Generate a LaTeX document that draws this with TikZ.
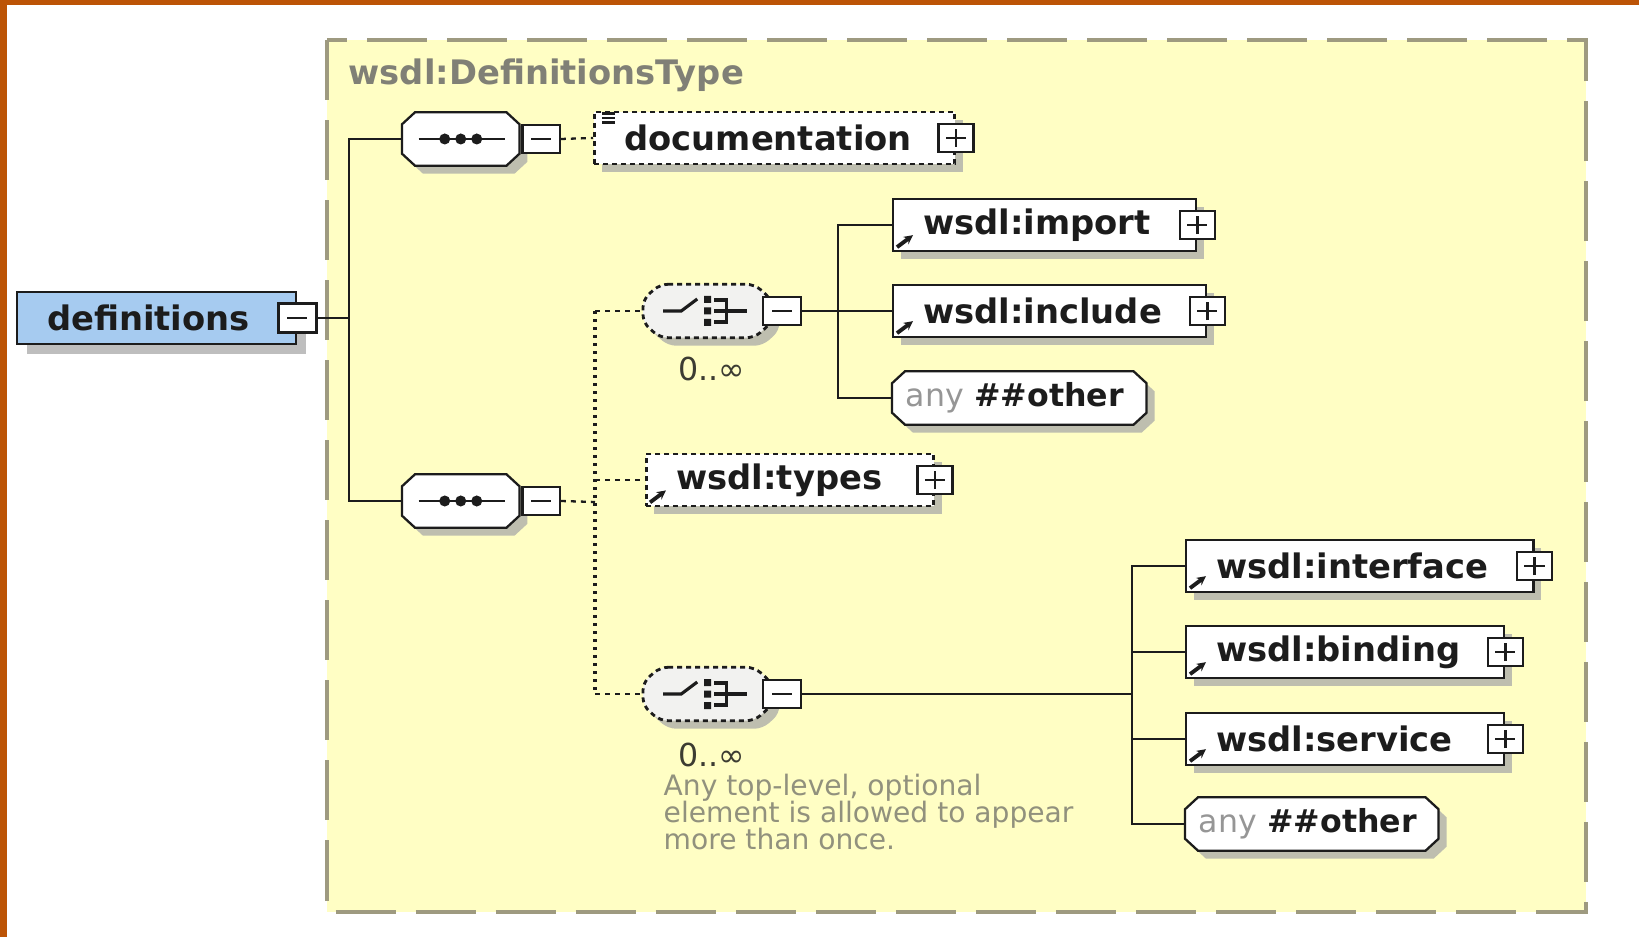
\documentclass[tikz,border=0pt]{standalone}
\usepackage{fontspec}
\setmainfont{DejaVu Sans}
\usetikzlibrary{arrows.meta,shadows,calc}
\definecolor{orng}{RGB}{188,84,6}
\definecolor{yel}{RGB}{255,254,196}
\definecolor{frm}{RGB}{158,154,128}
\definecolor{ink}{RGB}{28,28,28}
\definecolor{defblue}{RGB}{166,203,240}
\definecolor{shd}{RGB}{190,190,175}
\definecolor{shdw}{RGB}{190,190,190}
\definecolor{ttl}{RGB}{128,128,118}
\definecolor{notec}{RGB}{145,145,125}
\definecolor{anyc}{RGB}{150,150,150}
\definecolor{multc}{RGB}{60,60,50}
\definecolor{chfill}{RGB}{242,242,240}
\pgfdeclarelayer{base}
\pgfdeclarelayer{back}
\pgfsetlayers{base,back,main}
\newcommand\octoutline[4]{%
 \draw[#1] ([xshift=#3]#2.north west) -- ([xshift=-#3]#2.north east) -- ([yshift=-#4]#2.north east) -- ([yshift=#4]#2.south east) -- ([xshift=-#3]#2.south east) -- ([xshift=#3]#2.south west) -- ([yshift=#4]#2.south west) -- ([yshift=-#4]#2.north west) -- cycle;}
\begin{document}
\begin{tikzpicture}[x=0.01cm, y=-0.01cm,
 lw/.style={line width=0.65pt},
 lbl/.style={font=\fontsize{9.6}{11}\selectfont\bfseries, text=ink},
 elembase/.style={lbl, draw=ink, lw, fill=white, anchor=west, minimum height=0.52cm, inner xsep=0.3cm, inner ysep=0pt, align=left},
 elem/.style={elembase, drop shadow={shadow xshift=0.08cm, shadow yshift=-0.08cm, fill=shd, opacity=1}},
 optelem/.style={elem, dash pattern=on 0.05cm off 0.04cm, line width=0.8pt},
 pm/.style={draw=ink, lw, fill=white, minimum width=0.35cm, minimum height=0.28cm, inner sep=0pt},
 minus/.style={pm, path picture={\draw[ink,lw] ([xshift=-0.1cm]path picture bounding box.center) -- ([xshift=0.1cm]path picture bounding box.center);}},
 plus/.style={pm, path picture={\draw[ink,lw] ([xshift=-0.1cm]path picture bounding box.center) -- ([xshift=0.1cm]path picture bounding box.center) ([yshift=-0.09cm]path picture bounding box.center) -- ([yshift=0.09cm]path picture bounding box.center);}},
 conn/.style={draw=ink, lw},
 oconn/.style={draw=ink, lw, dash pattern=on 0.05cm off 0.05cm},
 dconn/.style={draw=ink, line width=0.9pt, dash pattern=on 0.03cm off 0.05cm},
 refarr/.style={draw=ink, line width=1.1pt, -{Stealth[length=0.09cm,width=0.09cm]}},
 ghost/.style={minimum width=#1, minimum height=0.52cm, inner sep=0pt, anchor=west},
 anyn/.style={font=\fontsize{9}{10}\selectfont\bfseries, text=ink, anchor=west, minimum height=0.52cm, inner xsep=0.13cm, inner ysep=0pt, align=left},
 mult/.style={font=\fontsize{9}{10}\selectfont, text=multc, inner sep=0pt},
 note/.style={font=\fontsize{8}{7.8}\selectfont, text=notec, align=left, inner sep=0pt, anchor=north west}
]
\useasboundingbox (0,0) rectangle (1639,937);
\begin{pgfonlayer}{base}
\fill[white] (0,0) rectangle (1639,937);
\fill[orng] (0,0) rectangle (7,937);
\fill[orng] (0,0) rectangle (1639,5);
\draw[frm, line width=0.9pt, fill=yel, dash pattern=on 0.6cm off 0.2cm] (327,40) rectangle (1586,912);
\end{pgfonlayer}

\node[lbl, text=ttl, anchor=west, inner sep=0pt] (ttl) at (348,75) {wsdl:DefinitionsType};

% root
\node[elembase, fill=defblue, text width=2.19cm, drop shadow={shadow xshift=0.1cm, shadow yshift=-0.1cm, fill=shdw, opacity=1}] (def) at (16,318) {definitions};
\node[minus, minimum width=0.38cm, minimum height=0.29cm] (defM) at (def.east) {};

% sequences
\node[ghost=1.16cm] (s1) at (402,139) {};
\node[minus, minimum width=0.37cm, anchor=west] (s1M) at ([xshift=0.02cm]s1.east) {};
\node[ghost=1.16cm] (s2) at (402,501) {};
\node[minus, minimum width=0.37cm, anchor=west] (s2M) at ([xshift=0.02cm]s2.east) {};

% documentation
\node[optelem, text width=3.0cm] (doc) at (593,138) {documentation};
\node[plus] (docP) at (doc.east) {};
\begin{scope}[shift={(doc.north west)}]
\draw[ink, line width=0.8pt] (9,3) -- (22,3) (9,7.5) -- (22,7.5) (9,12) -- (22,12);
\end{scope}

% choices
\node[ghost=1.27cm] (c1) at (643,311) {};
\node[minus, minimum width=0.38cm] (c1M) at (782,311) {};
\node[mult] (c1n) at (712,369) {0..∞};
\node[ghost=1.27cm] (c2) at (643,694) {};
\node[minus, minimum width=0.38cm] (c2M) at (782,694) {};
\node[mult] (c2n) at (712,755) {0..∞};
\node[note] (note) at (663,773) {Any top-level, optional\\element is allowed to appear\\more than once.};

% types
\node[optelem, text width=2.27cm] (types) at (645,480) {wsdl:types};
\node[plus] (typesP) at (types.east) {};

% first choice children
\node[elem, text width=2.43cm] (imp) at (892,225) {wsdl:import};
\node[plus] (impP) at (imp.east) {};
\node[elem, text width=2.53cm] (inc) at (892,311) {wsdl:include};
\node[plus] (incP) at (inc.east) {};
\node[anyn, text width=2.27cm] (oth1) at (892,398) {\mbox{\textcolor{anyc}{\mdseries any} \#\#other}};

% second choice children
\node[elem, text width=2.87cm] (ifc) at (1185,566) {wsdl:interface};
\node[plus] (ifcP) at (ifc.east) {};
\node[elem, text width=2.58cm] (bnd) at (1185,652) {wsdl:binding};
\node[plus] (bndP) at (bnd.east) {};
\node[elem, text width=2.58cm] (srv) at (1185,739) {wsdl:service};
\node[plus] (srvP) at (srv.east) {};
\node[anyn, text width=2.26cm] (oth2) at (1185,824) {\mbox{\textcolor{anyc}{\mdseries any} \#\#other}};

% outlines of chamfered shapes
\begin{pgfonlayer}{back}
\foreach \n in {s1,s2,oth1,oth2} {
 \octoutline{fill=shd, draw=none, transform canvas={shift={(0.08cm,-0.08cm)}}}{\n}{0.13cm}{0.12cm}
 \octoutline{fill=white, draw=ink, lw}{\n}{0.13cm}{0.12cm}
}
\foreach \n in {c1,c2} {
 \octoutline{fill=shd, draw=none, rounded corners=0.08cm, transform canvas={shift={(0.08cm,-0.08cm)}}}{\n}{0.17cm}{0.15cm}
 \octoutline{fill=chfill, draw=ink, line width=0.8pt, dash pattern=on 0.05cm off 0.04cm, rounded corners=0.08cm}{\n}{0.17cm}{0.15cm}
}
\end{pgfonlayer}

% sequence icons
\foreach \n in {s1,s2} {
 \draw[ink,line width=0.8pt] ([xshift=-0.42cm]\n.center) -- ([xshift=0.44cm]\n.center);
 \foreach \dx in {-0.16,0,0.16} \fill[ink] ([xshift=\dx cm]\n.center) circle (0.055cm);
}
% choice icons
\foreach \n in {c1,c2} {
 \begin{scope}[shift={(\n.center)}]
 \draw[ink,line width=0.9pt] (-44,0) -- (-26,0) -- (-10,-12);
 \fill[ink] (-3,-15) rectangle (4,-8) (-3,-3.5) rectangle (4,3.5) (-3,8) rectangle (4,15);
 \draw[ink,line width=0.9pt] (7,-11) -- (19,-11) -- (19,11) -- (7,11) (7,0) -- (40,0);
 \end{scope}
}
% reference arrows
\foreach \n in {imp,inc,types,ifc,bnd,srv}
 \draw[refarr] ([xshift=0.05cm,yshift=0.05cm]\n.south west) -- ++(16,-12);

% connectors
\coordinate (J0) at (349,318);
\draw[conn] (defM.east) -- (J0);
\draw[conn] (s1.west) -| (J0) |- (s2.west);
\draw[oconn] (s1M.east) -- (doc.west);
\coordinate (J1) at (595,502);
\draw[oconn] (s2M.east) -- (J1);
\draw[dconn] (J1 |- c1.west) -- (J1 |- c2.west);
\draw[oconn] (J1 |- c1.west) -- (c1.west);
\draw[oconn] (J1 |- c2.west) -- (c2.west);
\draw[oconn] (J1 |- types.west) -- (types.west);
\coordinate (J2) at (838,311);
\draw[conn] (c1M.east) -- (J2);
\draw[conn] (imp.west) -| (J2) |- (oth1.west);
\draw[conn] (J2) -- (inc.west);
\coordinate (J3) at (1132,694);
\draw[conn] (c2M.east) -- (J3);
\draw[conn] (ifc.west) -| (J3) |- (oth2.west);
\draw[conn] (bnd.west) -- (bnd.west -| J3);
\draw[conn] (srv.west) -- (srv.west -| J3);
\end{tikzpicture}
\end{document}
